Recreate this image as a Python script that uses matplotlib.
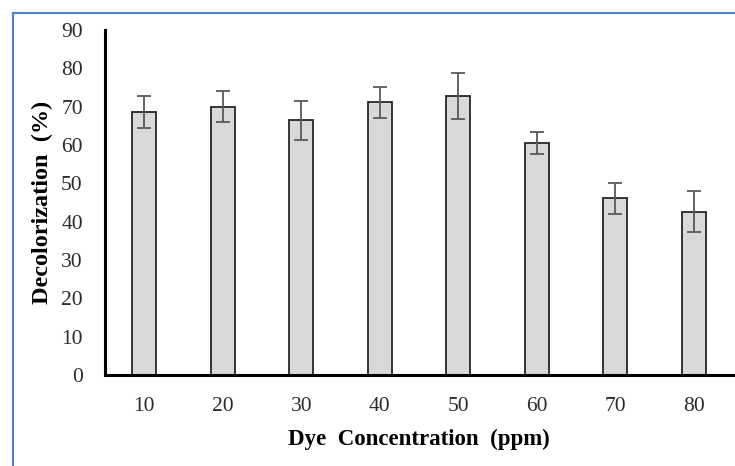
import matplotlib
matplotlib.use("Agg")
import matplotlib.pyplot as plt
from matplotlib.patches import Rectangle

# Daten
concentrations = ["10", "20", "30", "40", "50", "60", "70", "80"]
decolorization = [68.6, 70.0, 66.5, 71.1, 72.8, 60.5, 46.1, 42.6]
errors = [4.1, 4.1, 5.1, 4.1, 5.9, 2.8, 4.1, 5.4]
y_ticks = [0, 10, 20, 30, 40, 50, 60, 70, 80, 90]

plt.rcParams["font.family"] = ["Liberation Serif", "DejaVu Serif"]

fig = plt.figure(figsize=(7.35, 4.66), dpi=100)
ax = fig.add_axes([105 / 735, 1 - 375 / 466, 628 / 735, 345 / 466])

x = list(range(len(concentrations)))
ax.bar(x, decolorization, width=0.31, color="#d9d9d9", edgecolor="#262626",
       linewidth=1.3, zorder=2)
ax.errorbar(x, decolorization, yerr=errors, fmt="none", ecolor="#595959",
            elinewidth=1.3, capsize=5, capthick=1.3, zorder=3)

ax.set_xlim(-0.5, len(concentrations) - 0.5)
ax.set_ylim(0, 90)
ax.set_yticks(y_ticks)
ax.set_xticks(x)
ax.set_xticklabels(concentrations)
ax.tick_params(axis="both", length=0, labelsize=15.5, colors="#2b2b2b")
ax.tick_params(axis="y", pad=16)
ax.tick_params(axis="x", pad=16)

for side in ["top", "right"]:
    ax.spines[side].set_visible(False)
for side in ["left", "bottom"]:
    ax.spines[side].set_linewidth(2.2)
    ax.spines[side].set_color("black")

ax.set_xlabel("Dye  Concentration  (ppm)", fontsize=16.5, fontweight="bold",
              labelpad=9)
ax.set_ylabel("Decolorization  (%)", fontsize=17.5, fontweight="bold",
              labelpad=6)

# blauer Rahmen wie im Original (rechts/unten abgeschnitten)
fig.patches.append(Rectangle((13 / 735, -0.1), 1.2, 1 - 13 / 466 + 0.1,
                             transform=fig.transFigure, fill=False,
                             edgecolor="#4f81c7", linewidth=1.5))

fig.savefig("out.png", dpi=100)
